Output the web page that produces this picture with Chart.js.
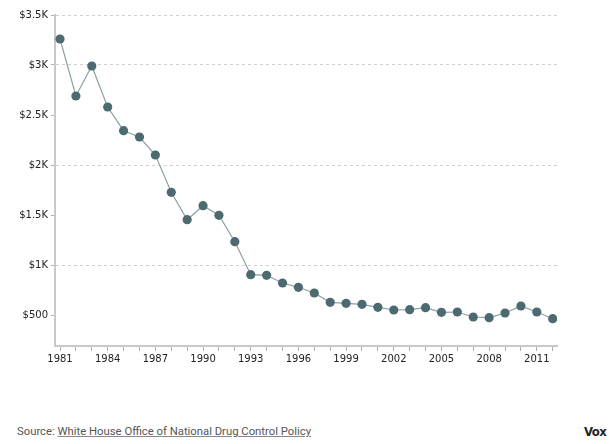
<!DOCTYPE html>
<html>
<head>
<meta charset="utf-8">
<script src="https://cdn.jsdelivr.net/npm/chart.js@4"></script>
<style>
  html, body { margin: 0; padding: 0; background: #fff; }
  body { width: 616px; height: 444px; position: relative; overflow: hidden; }
  #wrap { position: absolute; left: 0; top: 0; width: 616px; height: 370px; }
  #source { position: absolute; left: 17px; top: 425px; font-family: Roboto, "Open Sans", sans-serif; font-size: 11.3px; color: #555; white-space: nowrap; }
  #source a { color: #555; text-decoration: underline; text-decoration-color: #888; }
  #logo { position: absolute; left: 584px; top: 424px; font-family: "Liberation Sans Narrow", "DejaVu Sans Condensed", sans-serif; font-weight: bold; font-size: 13px; color: #222; letter-spacing: -0.6px; }
</style>
</head>
<body>
<div id="wrap"><canvas id="c"></canvas></div>
<div id="source">Source: <a href="#">White House Office of National Drug Control Policy</a></div>
<div id="logo">Vox</div>
<script>
const years = [1981,1982,1983,1984,1985,1986,1987,1988,1989,1990,1991,1992,1993,1994,1995,1996,1997,1998,1999,2000,2001,2002,2003,2004,2005,2006,2007,2008,2009,2010,2011,2012];
const prices = [3260,2690,2990,2580,2343,2280,2100,1727,1453,1593,1497,1233,903,897,820,777,720,627,617,607,577,550,553,573,527,530,480,473,520,590,530,463];
const yTicks = [500,1000,1500,2000,2500,3000,3500];
const gridValues = [1000,2000,3000,3500];
const xLabelEvery = 3;

function yLabel(v) {
  if (v >= 1000) return '$' + (v / 1000) + 'K';
  return '$' + v;
}

const points = years.map((y, i) => ({ x: y, y: prices[i] }));

new Chart(document.getElementById('c'), {
  type: 'line',
  data: {
    datasets: [{
      data: points,
      borderColor: '#8aa0a5',
      borderWidth: 1.2,
      pointBackgroundColor: '#4d6a71',
      pointBorderColor: '#4d6a71',
      pointBorderWidth: 0,
      pointRadius: 4.6,
      tension: 0
    }]
  },
  options: {
    responsive: true,
    maintainAspectRatio: false,
    animation: false,
    devicePixelRatio: 1,
    layout: { padding: { left: 0, right: 59, top: 15, bottom: 0 } },
    plugins: { legend: { display: false }, tooltip: { enabled: false } },
    scales: {
      x: {
        type: 'linear',
        min: 1980.685,
        max: 2012.27,
        afterBuildTicks: (axis) => { axis.ticks = years.map(v => ({ value: v })); },
        afterFit: (scale) => { scale.height = 24; },
        border: { display: true, color: '#c8c8c8', width: 2 },
        grid: { drawOnChartArea: false, drawTicks: true, tickLength: 5, tickColor: '#b0b0b0', tickWidth: 1 },
        ticks: {
          autoSkip: false,
          maxRotation: 0,
          padding: 2,
          color: '#222',
          font: { family: 'DejaVu Sans', size: 10 },
          callback: (v) => ((v - years[0]) % xLabelEvery === 0 ? String(v) : '')
        }
      },
      y: {
        min: 190,
        max: 3500,
        afterBuildTicks: (axis) => { axis.ticks = yTicks.map(v => ({ value: v })); },
        afterFit: (scale) => { scale.width = 55; },
        border: { display: true, color: '#c8c8c8', width: 2, dash: [3, 3] },
        grid: {
          drawOnChartArea: true,
          drawTicks: true,
          tickLength: 4,
          tickColor: '#b0b0b0',
          tickBorderDash: [],
          color: (ctx) => (ctx.tick && gridValues.includes(ctx.tick.value) ? '#d0d0d0' : 'rgba(0,0,0,0)'),
          lineWidth: 1
        },
        ticks: {
          padding: 3,
          color: '#222',
          font: { family: 'DejaVu Sans', size: 10 },
          callback: (v) => yLabel(v)
        }
      }
    }
  }
});
</script>
</body>
</html>
